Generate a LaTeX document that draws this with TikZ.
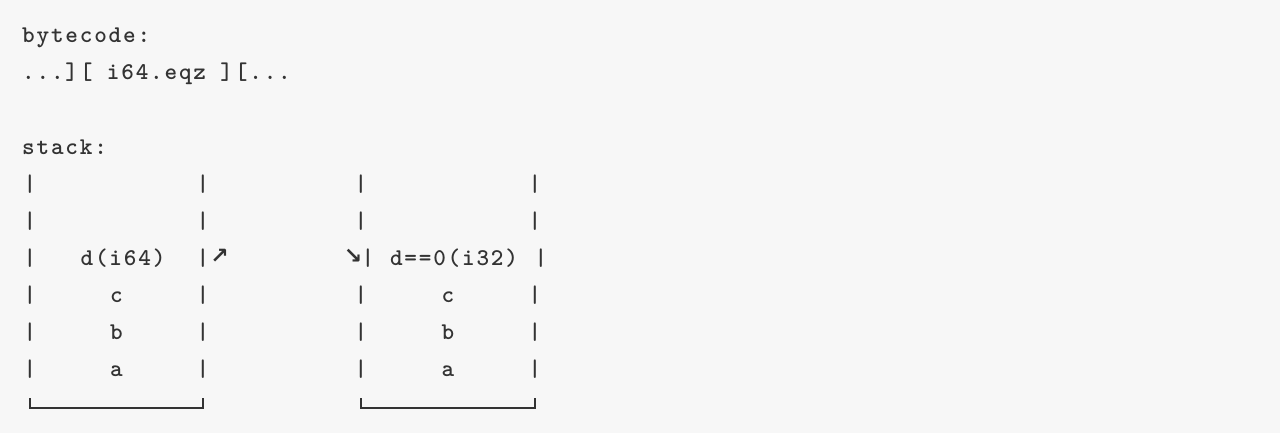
\documentclass[tikz,border=0pt]{standalone}
\usepackage{fontspec}
\newfontfamily\arrowfont{DejaVu Sans}
\newfontfamily\codefont{lmmonolt10-bold}[Extension=.otf,LetterSpace=7.6]
\definecolor{bg}{HTML}{F7F7F7}
\definecolor{ink}{HTML}{333333}
\tikzset{
  code/.style={font=\fontsize{24}{24}\selectfont\codefont,text=ink,inner sep=0pt,anchor=base},
  arr/.style={font=\fontsize{22}{22}\selectfont\arrowfont\bfseries,text=ink,inner sep=0pt},
}
\begin{document}
\begin{tikzpicture}[x=1pt,y=-1pt]
    \fill[bg](0,0)rectangle(1280,433);

    \node[code,anchor=base west](bc) at (22,43){bytecode:};
    \node[code,anchor=base west](ops) at (22,80){...][ i64.eqz ][...};
    \node[code,anchor=base west](st) at (22,154){stack:};

    % walls of the two stacks
    \foreach \y [count=\i] in {191,228,265,302,339,376}{
        \node[code](ll\i) at (30,\y){|};
        \node[code](lr\i) at (203,\y){|};
    }
    \foreach \y [count=\i] in {191,228,302,339,376}{
        \node[code](rl\i) at (361,\y){|};
        \node[code](rr\i) at (535,\y){|};
    }
    \node[code](rld) at (368,265){|};
    \node[code](rrd) at (541,265){|};

    \node[code](d64) at (123,265){d(i64)};
    \node[code](c64) at (116.5,302){c};
    \node[code](b64) at (116.5,339){b};
    \node[code](a64) at (116.5,376){a};

    \node[code](d32) at (454,265){d==0(i32)};
    \node[code](c32) at (448,302){c};
    \node[code](b32) at (448,339){b};
    \node[code](a32) at (448,376){a};

    \node[arr](ne) at (219.5,256.5){↗};
    \node[arr](se) at (353,256.5){↘};

    \draw[ink,line width=1.6pt](30,398)--(30,408)--(203,408)--(203,398);
    \draw[ink,line width=1.6pt](361,398)--(361,408)--(535,408)--(535,398);
\end{tikzpicture}
\end{document}
